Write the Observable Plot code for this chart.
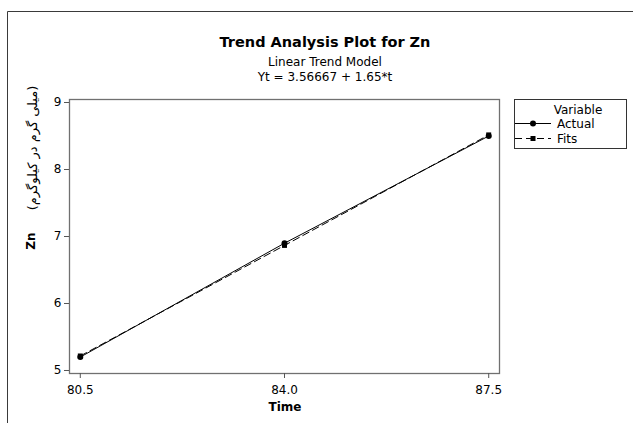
<!DOCTYPE html>
<html>
<head>
<meta charset="utf-8">
<script src="https://cdn.jsdelivr.net/npm/d3@7"></script>
<script src="https://cdn.jsdelivr.net/npm/@observablehq/plot@0.6"></script>
<style>
  html, body { margin: 0; padding: 0; background: white; }
  #chart { width: 633px; height: 423px; overflow: hidden; }
</style>
</head>
<body>
<div id="chart"></div>
<script>
// ---- data ----
const times = [80.5, 84.0, 87.5];
const actual = [5.2, 6.9, 8.5];
const fits = [5.21667, 6.86667, 8.51667];
const xTicks = [80.5, 84.0, 87.5];
const yTicks = [5, 6, 7, 8, 9];
const seriesNames = ["Actual", "Fits"];
const titleText = "Trend Analysis Plot for Zn";
const subtitleText = "Linear Trend Model";
const equationText = "Yt = 3.56667 + 1.65*t";
const xLabel = "Time";
const yLabel = "Zn";
const yUnit = "(میلی گرم در کیلوگرم)";

const rowsActual = times.map((t, i) => ({t, v: actual[i]}));
const rowsFits = times.map((t, i) => ({t, v: fits[i]}));

const font = "DejaVu Sans, Verdana, sans-serif";

const svg = Plot.plot({
  width: 633,
  height: 423,
  marginLeft: 69,
  marginRight: 134,
  marginTop: 99,
  marginBottom: 50,
  style: {fontFamily: font, fontSize: "12px", background: "white", color: "black"},
  x: {domain: [80.315, 87.685], label: null},
  y: {domain: [4.955, 9.045], label: null},
  marks: [
    Plot.frame({stroke: "#707070", strokeWidth: 1.3}),
    Plot.axisX({ticks: xTicks, tickFormat: d3.format(".1f"), tickSize: 5, tickPadding: 7, label: null, stroke: "#555", fill: "black", fontSize: 12}),
    Plot.axisY({ticks: yTicks, tickFormat: d3.format("d"), tickSize: 5, tickPadding: 3, label: null, stroke: "#555", fill: "black", fontSize: 12}),
    Plot.line(rowsActual, {x: "t", y: "v", stroke: "black", strokeWidth: 1}),
    Plot.line(rowsFits, {x: "t", y: "v", stroke: "black", strokeWidth: 1, strokeDasharray: "7,4"}),
    Plot.dot(rowsActual, {x: "t", y: "v", symbol: "circle", r: 3, fill: "black", stroke: "none"}),
    Plot.dot(rowsFits, {x: "t", y: "v", symbol: "square", r: 2.8, fill: "black", stroke: "none"})
  ]
});

const s = d3.select(svg);

// outer graph border
s.append("path").attr("d", "M7.5,423 V11.5 H633").attr("fill", "none").attr("stroke", "#3a3a3a").attr("stroke-width", 1);

// titles
const tx = 325;
s.append("text").attr("x", tx).attr("y", 47).attr("text-anchor", "middle")
  .attr("font-family", font).attr("font-size", 14.5).attr("font-weight", "bold").attr("fill", "black").text(titleText);
s.append("text").attr("x", tx).attr("y", 66).attr("text-anchor", "middle")
  .attr("font-family", font).attr("font-size", 12).attr("fill", "black").text(subtitleText);
s.append("text").attr("x", tx).attr("y", 81).attr("text-anchor", "middle")
  .attr("font-family", font).attr("font-size", 12).attr("fill", "black").text(equationText);

// axis labels
s.append("text").attr("x", 285).attr("y", 411).attr("text-anchor", "middle")
  .attr("font-family", font).attr("font-size", 12).attr("font-weight", "bold").attr("fill", "black").text(xLabel);
s.append("text").attr("transform", "translate(35,241) rotate(-90)").attr("text-anchor", "middle")
  .attr("font-family", font).attr("font-size", 12).attr("font-weight", "bold").attr("fill", "black").text(yLabel);
s.append("text").attr("transform", "translate(37,148) rotate(-90)").attr("text-anchor", "middle")
  .attr("font-family", font).attr("font-size", 13).attr("fill", "black").text(yUnit);

// legend
const lg = s.append("g");
lg.append("rect").attr("x", 514.5).attr("y", 99.5).attr("width", 112).attr("height", 49)
  .attr("fill", "white").attr("stroke", "#333").attr("stroke-width", 1);
lg.append("text").attr("x", 578).attr("y", 114).attr("text-anchor", "middle")
  .attr("font-family", font).attr("font-size", 12).attr("fill", "black").text("Variable");
// Actual row
lg.append("line").attr("x1", 515).attr("x2", 551).attr("y1", 123.5).attr("y2", 123.5).attr("stroke", "black");
lg.append("circle").attr("cx", 533).attr("cy", 123.5).attr("r", 3).attr("fill", "black");
lg.append("text").attr("x", 557).attr("y", 128).attr("text-anchor", "start")
  .attr("font-family", font).attr("font-size", 12).attr("fill", "black").text(seriesNames[0]);
// Fits row
lg.append("line").attr("x1", 515).attr("x2", 551).attr("y1", 138.5).attr("y2", 138.5).attr("stroke", "black").attr("stroke-dasharray", "7,4");
lg.append("rect").attr("x", 530.5).attr("y", 136).attr("width", 5).attr("height", 5).attr("fill", "black");
lg.append("text").attr("x", 557).attr("y", 143).attr("text-anchor", "start")
  .attr("font-family", font).attr("font-size", 12).attr("fill", "black").text(seriesNames[1]);

document.getElementById("chart").appendChild(svg);
</script>
</body>
</html>
